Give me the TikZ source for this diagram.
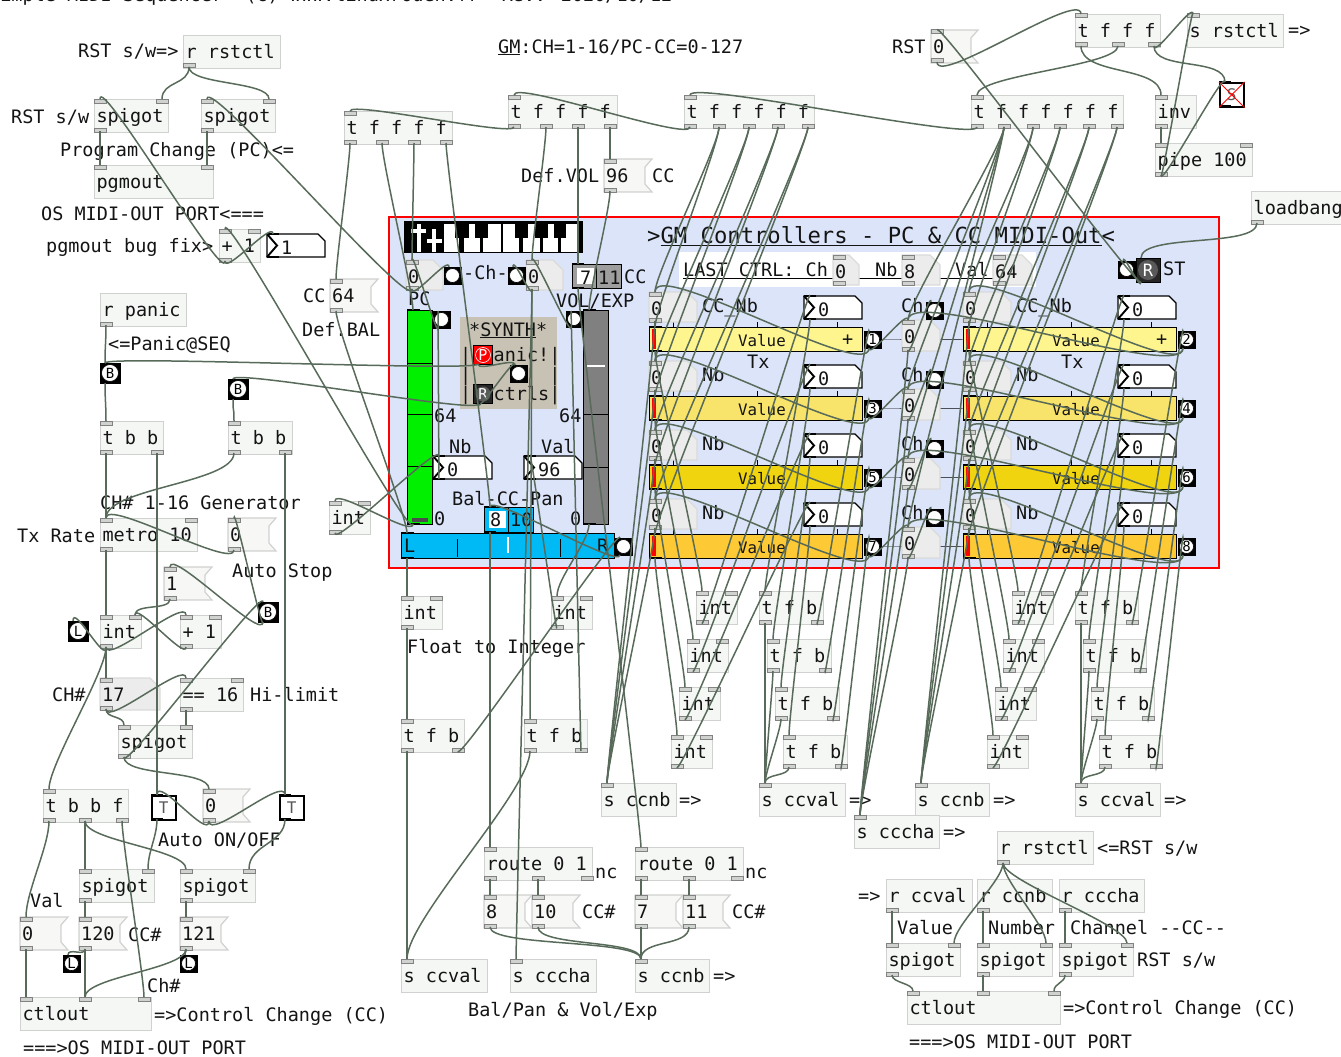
\documentclass[tikz,border=0pt]{standalone}
\usepackage{fontspec}
\usepackage{xcolor}
\usepackage{tikz}
\usetikzlibrary{positioning}
\newfontfamily\pdfont{DejaVu Sans Mono}
\definecolor{pd_wire}{RGB}{88, 107, 90}
\definecolor{pd_ink}{RGB}{20, 20, 20}
\definecolor{pd_edge}{RGB}{208, 210, 208}
\definecolor{pd_paper}{RGB}{245, 247, 245}
\definecolor{pd_msg}{RGB}{247, 247, 245}
\definecolor{pd_atom}{RGB}{236, 236, 236}
\definecolor{pd_port}{RGB}{130, 130, 130}
\definecolor{pd_panel}{RGB}{220, 228, 250}
\definecolor{pd_synth}{RGB}{200, 194, 180}
\definecolor{pd_green}{RGB}{0, 240, 0}
\definecolor{pd_cyan}{RGB}{0, 186, 245}
\definecolor{pd_grey}{RGB}{128, 128, 128}
\definecolor{pd_rowa}{RGB}{254, 245, 142}
\definecolor{pd_rowb}{RGB}{248, 227, 107}
\definecolor{pd_rowc}{RGB}{240, 212, 15}
\definecolor{pd_rowd}{RGB}{253, 201, 52}
\tikzset{
  pdtext/.style={anchor=base west,inner sep=0pt,text=pd_ink,font=\pdfont\fontsize{18.5}{20}\selectfont},
  pdbox/.style={draw=pd_edge,fill=pd_paper,line width=1.2pt,anchor=north west,inner xsep=2pt,inner ysep=0pt,
    minimum height=33,text height=15.5,text depth=2.5,text=pd_ink,font=\pdfont\fontsize{18.5}{20}\selectfont},
  pdportbox/.style={draw=pd_port,fill=pd_edge,line width=1pt},
  pdcord/.style={draw=pd_wire,line width=1.5pt},
  pdmsgbg/.style={draw=pd_edge,fill=pd_msg,line width=1.2pt},
  pdatombg/.style={draw=pd_edge!80!white,fill=pd_atom,line width=1.2pt},
  pdbar/.style={draw=black,line width=1.4pt,anchor=north west,inner sep=0pt},
  pdmark/.style={line width=2.4pt,black},
  pdbangbox/.style={fill=black,draw=black,inner sep=0pt,line width=0.5pt},
  pddot/.style={circle,draw=black,fill=white,inner sep=0pt,line width=0.6pt,text=black,font=\pdfont\fontsize{14}{14}\selectfont},
}
% one row of ports on a box
\newcommand{\pdports}[6]{%
  \ifx\relax#4\relax\else
  \foreach \px [count=\pn] in {#4} {
    \draw[pdportbox] (#2+\px,#3) rectangle (#2+\px+12,#3+4);
    \coordinate (#1-i\pn) at (#2+\px+6,#3);
  }\fi
  \ifx\relax#6\relax\else
  \foreach \px [count=\pn] in {#6} {
    \draw[pdportbox] (#2+\px,#3+#5-4) rectangle (#2+\px+12,#3+#5);
    \coordinate (#1-o\pn) at (#2+\px+6,#3+#5-1);
  }\fi}
\newcommand{\pdobj}[7]{%
  \node[pdbox,minimum width=#4] (#1) at (#2,#3) {\makebox[\dimexpr#4pt-4pt\relax][l]{#5}};
  \pdports{#1}{#2}{#3}{#6}{33}{#7}}
\newcommand{\pdmsg}[5]{%
  \draw[pdmsgbg] (#2,#3) -- (#2+#4,#3) -- (#2+#4-7,#3+8) -- (#2+#4-7,#3+25) -- (#2+#4,#3+33) -- (#2,#3+33) -- cycle;
  \node[pdtext] (#1) at (#2+2,#3+23) {#5};
  \pdports{#1}{#2}{#3}{0}{33}{0}}
\newcommand{\pdatom}[6]{%
  \draw[pdatombg] (#2,#3) -- (#2+#4-10,#3) -- (#2+#4,#3+10) -- (#2+#4,#3+#5) -- (#2,#3+#5) -- cycle;
  \node[pdtext] (#1) at (#2+2,#3+23) {#6};
  \pdports{#1}{#2}{#3}{0}{#5}{0}}
\newcommand{\pdnbx}[5]{%
  \draw[fill=white,draw=black,line width=1.3pt] (#2,#3) -- (#2+#4-7,#3) -- (#2+#4,#3+7) -- (#2+#4,#3+23) -- (#2,#3+23) -- cycle;
  \draw[line width=1.9pt] (#2,#3) -- (#2+10,#3+11.5) -- (#2,#3+23);
  \draw[pdmark] (#2,#3) -- (#2+12,#3) (#2,#3+23) -- (#2+12,#3+23);
  \node[pdtext] (#1) at (#2+14,#3+20) {#5};
  \coordinate (#1-i1) at (#2+6,#3);
  \coordinate (#1-o1) at (#2+6,#3+23);}
\newcommand{\pdbang}[5]{%
  \node[pdbangbox,minimum size=#4] (#1) at (#2+#4/2,#3+#4/2) {};
  \node[pddot,minimum size=#4-3] (#1-d) at (#1.center) {#5};
  \coordinate (#1-i1) at (#2+5,#3);
  \coordinate (#1-o1) at (#2+5,#3+#4);}
\newcommand{\pdtgl}[4]{%
  \node[draw=black,fill=white,line width=1.5pt,minimum size=24,inner sep=0pt,anchor=north west,text=black!65,
    font=\pdfont\fontsize{16}{16}\selectfont] (#1) at (#2,#3) {#4};
  \draw[pdmark] (#2,#3) -- (#2+12,#3) (#2,#3+24) -- (#2+12,#3+24);
  \coordinate (#1-i1) at (#2+6,#3);
  \coordinate (#1-o1) at (#2+6,#3+24);}
\newcommand{\pdwire}[3][18]{\draw[pdcord] (#2) .. controls +(0,#1) and +(0,-#1) .. (#3);}
\begin{document}
\begin{tikzpicture}[x=1pt,y=-1pt]
    \useasboundingbox (0,0) rectangle (1341,1057);
    \clip (0,0) rectangle (1341,1057);
    % Panel
    \fill[pd_panel] (389,217) rectangle (1219,568);
    \draw[red,line width=1.3pt] (389,217) rectangle (1219,568);

    % Comments
    \node[pdtext] (cTitle) at (-11,2) {Simple MIDI Sequencer~~(c) www.linuxrouen.fr~~Rev: 2020/10/12};
    \node[pdtext] (cRstA) at (78,58) {RST s/w=>};
    \node[pdtext] (cRstB) at (11,123) {RST s/w};
    \node[pdtext] (cProg) at (60,156) {Program Change (PC)<=};
    \node[pdtext] (cPortA) at (41,220) {OS MIDI-OUT PORT<===};
    \node[pdtext] (cBug) at (46,252) {pgmout bug fix>};
    \node[pdtext] (cCcA) at (303,302) {CC};
    \node[pdtext] (cBal) at (302,336) {Def.BAL};
    \node[pdtext] (cPanic) at (108,350) {<=Panic@SEQ};
    \node[pdtext] (cGm) at (498,53) {\underline{GM}:CH=1-16/PC-CC=0-127};
    \node[pdtext] (cRstC) at (892,53) {RST};
    \node[pdtext] (cVol) at (521,182) {Def.VOL};
    \node[pdtext] (cCcB) at (652,182) {CC};
    \node[pdtext] (cSend) at (1288,37) {=>};
    \node[pdtext] (cGen) at (100,509) {CH\# 1-16 Generator};
    \node[pdtext] (cTx) at (17,542) {Tx Rate};
    \node[pdtext] (cStop) at (232,577) {Auto Stop};
    \node[pdtext] (cChA) at (52,701) {CH\#};
    \node[pdtext] (cHi) at (250,701) {Hi-limit};
    \node[pdtext] (cAuto) at (158,846) {Auto ON/OFF};
    \node[pdtext] (cVal) at (30,907) {Val};
    \node[pdtext] (cCcC) at (128,941) {CC\#};
    \node[pdtext] (cChB) at (147,992) {Ch\#};
    \node[pdtext] (cCtlA) at (154,1021) {=>Control Change (CC)};
    \node[pdtext] (cPortB) at (23,1054) {===>OS MIDI-OUT PORT};
    \node[pdtext] (cFloat) at (407,653) {Float to Integer};
    \node[pdtext] (cNcA) at (595,878) {nc};
    \node[pdtext] (cNcB) at (745,878) {nc};
    \node[pdtext] (cCcD) at (582,918) {CC\#};
    \node[pdtext] (cCcE) at (732,918) {CC\#};
    \node[pdtext] (cBalPan) at (468,1016) {Bal/Pan \& Vol/Exp};
    \node[pdtext] (cOutA) at (679,806) {=>};
    \node[pdtext] (cOutB) at (713,982) {=>};
    \node[pdtext] (cOutC) at (849,806) {=>};
    \node[pdtext] (cOutD) at (993,806) {=>};
    \node[pdtext] (cOutE) at (1164,806) {=>};
    \node[pdtext] (cOutF) at (943,838) {=>};
    \node[pdtext] (cRstD) at (1097,854) {<=RST s/w};
    \node[pdtext] (cOutG) at (858,902) {=>};
    \node[pdtext] (cValue) at (897,934) {Value};
    \node[pdtext] (cNumber) at (988,934) {Number};
    \node[pdtext] (cChannel) at (1070,934) {Channel --CC--};
    \node[pdtext] (cRstE) at (1137,966) {RST s/w};
    \node[pdtext] (cCtlB) at (1063,1014) {=>Control Change (CC)};
    \node[pdtext] (cPortC) at (909,1048) {===>OS MIDI-OUT PORT};

    % Top objects
    \pdobj{rstA}{183}{35}{97}{r rstctl}{}{0}
    \pdobj{spgA}{94}{99}{74}{spigot}{0,62}{0}
    \pdobj{spgB}{201}{99}{74}{spigot}{0,62}{0}
    \pdobj{pgmA}{94}{165}{119}{pgmout}{0,107}{}
    \pdobj{addA}{219}{229}{41}{+ 1}{0,29}{0}
    \pdnbx{nbxA}{267}{234}{58}{1}
    \pdobj{trgA}{344}{111}{108}{t f f f f}{0}{0,32,64,96}
    \pdobj{trgB}{508}{95}{109}{t f f f f}{0}{0,32,64,96}
    \pdobj{trgC}{684}{95}{130}{t f f f f f}{0}{0,29,59,88,118}
    \pdobj{trgD}{971}{95}{152}{t f f f f f f}{0}{0,27,56,83,112,140}
    \pdobj{trgE}{1075}{14}{85}{t f f f}{0}{0,37,73}
    \pdobj{sndR}{1187}{14}{96}{s rstctl}{0}{}
    \pdobj{invA}{1155}{95}{41}{inv}{0}{0}
    \pdobj{pipA}{1155}{143}{97}{pipe 100}{0,85}{0}
    \pdobj{lbgA}{1251}{191}{98}{loadbang}{}{0}
    \pdtgl{tglS}{1219}{82}{S}
    \draw[red,line width=0.9pt] (tglS.north west) -- (tglS.south east) (tglS.north east) -- (tglS.south west);
    \pdmsg{msgR}{931}{30}{47}{0}
    \pdmsg{msgV}{604}{159}{48}{96}
    \pdmsg{msgB}{330}{279}{48}{64}

    % Left column
    \pdobj{rcvP}{100}{293}{86}{r panic}{}{0}
    \pdbang{bngB}{100}{363}{20}{B}
    \pdbang{bngC}{228}{379}{20}{B}
    \pdobj{tbbA}{100}{421}{63}{t b b}{0}{0,51}
    \pdobj{tbbB}{228}{421}{64}{t b b}{0}{0,51}
    \pdobj{metA}{100}{518}{97}{metro 10}{0,85}{0}
    \pdmsg{msgS}{228}{518}{48}{0}
    \pdmsg{msgO}{164}{567}{48}{1}
    \pdobj{intA}{100}{615}{41}{int}{0,29}{0}
    \pdobj{addB}{180}{615}{41}{+ 1}{0,29}{0}
    \pdbang{bngL}{68}{621}{20}{L}
    \pdbang{bngE}{258}{602}{20}{B}
    \pdobj{intC}{329}{501}{41}{int}{0,29}{0}
    \pdatom{numH}{100}{678}{60}{32}{17}
    \pdobj{eqlA}{180}{678}{63}{== 16}{0,51}{0}
    \pdobj{spgC}{118}{725}{74}{spigot}{0,62}{0}
    \pdobj{tbfA}{43}{789}{85}{t b b f}{0}{0,36,73}
    \pdtgl{tglA}{151}{795}{T}
    \pdmsg{msgT}{203}{789}{47}{0}
    \pdtgl{tglB}{279}{795}{T}
    \pdobj{spgD}{79}{869}{75}{spigot}{0,63}{0}
    \pdobj{spgE}{180}{869}{75}{spigot}{0,63}{0}
    \pdmsg{msgX}{20}{917}{48}{0}
    \pdmsg{msgY}{79}{917}{48}{120}
    \pdmsg{msgZ}{180}{917}{48}{121}
    \pdbang{bngD}{63}{955}{17}{L}
    \pdbang{bngF}{180}{955}{17}{L}
    \pdobj{ctlA}{20}{997}{131}{ctlout}{0,59,118}{}

    % Middle column
    \pdobj{intB}{401}{596}{41}{int}{0,29}{0}
    \pdobj{intD}{551}{596}{41}{int}{0,29}{0}
    \pdobj{tfbA}{401}{719}{63}{t f b}{0}{0,51}
    \pdobj{tfbB}{524}{719}{63}{t f b}{0}{0,51}
    \pdobj{rteA}{484}{847}{108}{route 0 1}{0}{0,48,97}
    \pdobj{rteB}{635}{847}{108}{route 0 1}{0}{0,48,96}
    \pdmsg{msgA}{484}{895}{48}{8}
    \pdmsg{msgC}{532}{895}{48}{10}
    \pdmsg{msgD}{635}{895}{48}{7}
    \pdmsg{msgE}{683}{895}{47}{11}
    \pdobj{sndA}{401}{959}{86}{s ccval}{0}{}
    \pdobj{sndB}{510}{959}{86}{s cccha}{0}{}
    \pdobj{sndC}{635}{959}{74}{s ccnb}{0}{}
    \pdobj{sndD}{601}{783}{75}{s ccnb}{0}{}
    \pdobj{sndE}{759}{783}{86}{s ccval}{0}{}
    \pdobj{sndF}{915}{783}{74}{s ccnb}{0}{}
    \pdobj{sndG}{1075}{783}{85}{s ccval}{0}{}
    \pdobj{sndH}{854}{815}{85}{s cccha}{0}{}

    % int and trigger stairs
    \foreach \rw/\xi/\xt in {1/696/759,2/687/767,3/679/775,4/671/783} {
      \pgfmathsetmacro{\ys}{591+(\rw-1)*48}
      \pgfmathsetmacro{\xj}{\xi+316}
      \pgfmathsetmacro{\xu}{\xt+316}
      \pdobj{intL\rw}{\xi}{\ys}{41}{int}{0,29}{0}
      \pdobj{tfbL\rw}{\xt}{\ys}{64}{t f b}{0}{0,52}
      \pdobj{intR\rw}{\xj}{\ys}{41}{int}{0,29}{0}
      \pdobj{tfbR\rw}{\xu}{\ys}{63}{t f b}{0}{0,51}
    }

    % Bottom right
    \pdobj{rstB}{997}{831}{96}{r rstctl}{}{0}
    \pdobj{rcvA}{886}{879}{86}{r ccval}{}{0}
    \pdobj{rcvB}{977}{879}{75}{r ccnb}{}{0}
    \pdobj{rcvC}{1059}{879}{85}{r cccha}{}{0}
    \pdobj{spgF}{886}{943}{74}{spigot}{0,62}{0}
    \pdobj{spgG}{977}{943}{75}{spigot}{0,63}{0}
    \pdobj{spgH}{1059}{943}{74}{spigot}{0,62}{0}
    \pdobj{ctlB}{907}{991}{153}{ctlout}{0,70,141}{}

    % Piano
    \fill[black] (404,221) rectangle (583,253);
    \foreach \xa/\ya/\xb/\yb in {417/224/421/252,411/229/426/233,432/229/436/252,427/239/442/243,
        444/224/455/252,455/238/459/252,464/238/480/252,469/224/475/238,483/238/501/252,488/224/501/238,
        503/224/515/252,515/238/519/252,523/238/540/252,528/224/535/238,543/238/558/252,548/224/554/238,
        561/238/577/252,566/224/577/238}
      \fill[white] (\xa,\ya) rectangle (\xb,\yb);

    % Synth box
    \fill[pd_synth] (460,317) rectangle (557,409);
    \node[pdtext] (cSynth) at (469,336) {*\underline{SYNTH}*};
    \node[pdtext] (cPanicA) at (460,361) {|~~anic!|};
    \node[pdtext] (cBars) at (460,381) {|~~~~~~~|};
    \node[pdtext] (cCtrls) at (460,400) {|~~ctrls|};
    \node[fill=red,draw=black,line width=1pt,minimum size=19,inner sep=0pt] (bngP) at (483,355) {};
    \node[circle,fill=red,draw=white,line width=0.6pt,minimum size=15,inner sep=0pt,text=white,
      font=\pdfont\fontsize{15}{15}\selectfont] (bngP-d) at (bngP.center) {P};
    \node[fill=black!85,draw=black,line width=1pt,minimum size=19,inner sep=0pt] (bngR) at (483,394) {};
    \node[circle,fill=black!65,minimum size=15,inner sep=0pt,text=white,
      font=\pdfont\fontsize{15}{15}\selectfont] (bngR-d) at (bngR.center) {R};
    \coordinate (bngP-o1) at (478,364);
    \coordinate (bngR-o1) at (478,404);
    \pdbang{bngK}{510}{365}{17}{}

    % PC slider
    \node[pdbar,fill=pd_green,minimum width=25,minimum height=214] (sldP) at (407,310) {};
    \draw[black] (407,363) -- (432,363) (407,414) -- (432,414) (407,466) -- (432,466);
    \fill[black!70] (412,518) rectangle (428,522);
    \draw[pdmark] (407,310) -- (420,310) (407,524) -- (420,524);
    \coordinate (sldP-i1) at (413,310);
    \coordinate (sldP-o1) at (413,524);
    % VOL slider
    \node[pdbar,fill=pd_grey,minimum width=25,minimum height=214] (sldV) at (583,310) {};
    \draw[black] (583,414) -- (608,414) (583,467) -- (608,467);
    \draw[white,line width=1.5pt] (587,366) -- (605,366);
    \draw[pdmark] (583,310) -- (596,310) (583,524) -- (596,524);
    \coordinate (sldV-i1) at (589,310);
    \coordinate (sldV-o1) at (589,524);
    % BAL slider
    \node[pdbar,fill=pd_cyan,minimum width=213,minimum height=25] (sldB) at (401,533) {};
    \draw[black] (457,539) -- (457,557) (560,539) -- (560,557);
    \draw[white,line width=2pt] (508,537) -- (508,553);
    \draw[pdmark] (401,533) -- (414,533) (401,558) -- (414,558);
    \node[pdtext] (cL) at (404,552) {L};
    \node[pdtext] (cR) at (597,552) {R};
    \coordinate (sldB-i1) at (407,533);
    \coordinate (sldB-o1) at (407,558);
    \pdbang{bngG}{615}{538}{17}{}
    % Radios
    \node[pdbar,fill=pd_cyan,minimum width=49,minimum height=25] (radB) at (484,507) {};
    \draw[black] (508.5,507) -- (508.5,532);
    \fill[white] (489,511) rectangle (506,528);
    \draw[pdmark] (484,507) -- (496,507) (484,532) -- (496,532);
    \node[pdtext] (radB-a) at (490,526) {8};
    \node[pdtext] (radB-b) at (510,526) {10};
    \coordinate (radB-i1) at (490,507);
    \coordinate (radB-o1) at (490,532);
    \node[pdbar,fill=black!38,minimum width=49,minimum height=24] (radV) at (572,264) {};
    \draw[black] (596.5,264) -- (596.5,288);
    \fill[white] (577,268) rectangle (594,284);
    \draw[pdmark] (572,264) -- (584,264) (572,288) -- (584,288);
    \node[pdtext] (radV-a) at (580,284) {7};
    \node[pdtext] (radV-b) at (598,284) {11};
    \coordinate (radV-i1) at (578,264);
    \coordinate (radV-o1) at (578,288);

    % Panel left labels
    \pdatom{numP}{406}{260}{37}{30}{0}
    \pdatom{numQ}{526}{260}{37}{30}{0}
    \pdbang{bngH}{444}{267}{17}{}
    \pdbang{bngI}{508}{267}{17}{}
    \pdbang{bngM}{433}{311}{17}{}
    \pdbang{bngV}{566}{311}{16}{}
    \node[pdtext] (cCh) at (463,279) {-Ch-};
    \node[pdtext] (cCcF) at (624,283) {CC};
    \node[pdtext] (cVolExp) at (556,307) {VOL/EXP};
    \node[pdtext] (cPc) at (408,305) {PC};
    \node[pdtext] (cSixA) at (434,422) {64};
    \node[pdtext] (cSixB) at (559,422) {64};
    \node[pdtext] (cNb) at (449,453) {Nb};
    \node[pdtext] (cVa) at (541,453) {Val};
    \node[pdtext] (cBalCc) at (452,505) {Bal-CC-Pan};
    \node[pdtext] (cZeroA) at (434,525) {0};
    \node[pdtext] (cZeroB) at (570,525) {0};
    \pdnbx{nbxN}{433}{456}{59}{0}
    \pdnbx{nbxV}{524}{456}{58}{96}

    % Title and last control
    \node[pdtext,font=\pdfont\fontsize{22.2}{24}\selectfont] (cHead) at (647,243) {>\underline{GM Controllers - PC \& CC MIDI-Out}<};
    \fill[white] (679,252) rectangle (1036,287);
    \draw[black] (683,278) -- (1000,278);
    \node[pdtext] (cLast) at (683,276) {LAST CTRL: Ch};
    \node[pdtext] (cNbL) at (875,276) {Nb};
    \node[pdtext] (cValL) at (955,276) {Val};
    \pdatom{numU}{833}{255}{26}{30}{0}
    \pdatom{numW}{902}{255}{38}{30}{8}
    \pdatom{numZ}{993}{255}{39}{30}{64}

    % ST
    \node[fill=black!85,draw=black,line width=1pt,minimum size=24,inner sep=0pt] (bngT) at (1148,270) {};
    \node[circle,fill=black!65,minimum size=20,inner sep=0pt,text=white,
      font=\pdfont\fontsize{17}{17}\selectfont] (bngT-d) at (bngT.center) {R};
    \coordinate (bngT-i1) at (1141,258);
    \coordinate (bngT-o1) at (1141,282);
    \pdbang{bngS}{1118}{261}{17}{}
    \node[pdtext] (cSt) at (1163,275) {ST};

    % CC rows
    \foreach \col/\cx/\bnA in {L/0/-1,R/314/0} {
      \foreach \rw/\colr in {1/pd_rowa,2/pd_rowb,3/pd_rowc,4/pd_rowd} {
        \pgfmathsetmacro{\xa}{649+\cx}
        \pgfmathsetmacro{\xn}{804+\cx}
        \pgfmathsetmacro{\xb}{864+\cx}
        \pgfmathsetmacro{\ya}{327+(\rw-1)*69}
        \pgfmathtruncatemacro{\bn}{2*\rw+\bnA}
        \draw[black] (\xa+24,\ya-5) -- (\xa+24,\ya) (\xa+108,\ya-5) -- (\xa+108,\ya) (\xa+188,\ya-5) -- (\xa+188,\ya);
        \pdatom{num\col\rw}{\xa}{\ya-35}{48}{30}{0}
        \node[pdtext] (cNb\col\rw) at (\xa+53,\ya-15) {\ifnum\rw=1 CC\_Nb\else Nb\fi};
        \pdnbx{nbx\col\rw}{\xn}{\ya-31}{58}{0}
        \node[pdbar,fill=\colr,minimum width=213,minimum height=24] (sld\col\rw) at (\xa,\ya) {};
        \fill[red] (\xa+3,\ya+2) rectangle (\xa+7,\ya+22);
        \draw[pdmark] (\xa,\ya) -- (\xa+13,\ya) (\xa,\ya+24) -- (\xa+13,\ya+24);
        \node[pdtext,font=\pdfont\fontsize{15.8}{16}\selectfont] (cVal\col\rw) at (\xa+89,\ya+19) {Value};
        \ifnum\rw=1 \node[pdtext] (cPlus\col) at (\xa+193,\ya+18) {+}; \fi
        \coordinate (sld\col\rw-i1) at (\xa+6,\ya);
        \coordinate (sld\col\rw-o1) at (\xa+6,\ya+24);
        \pdbang{bng\col\rw}{\xb}{\ya+4}{17}{\bn}
      }
    }
    \node[pdtext] (cTxL) at (747,368) {Tx};
    \node[pdtext] (cTxR) at (1061,368) {Tx};
    % Ch column
    \foreach \rw in {1,2,3,4} {
      \pgfmathsetmacro{\ya}{327+(\rw-1)*69}
      \draw[black] (bngL\rw.east) -- (sldR\rw.west);
      \pdatom{numC\rw}{902}{\ya-7}{38}{31}{0}
      \pdbang{bngC\rw}{926}{\ya-25}{17}{}
      \node[pdtext] (cChC\rw) at (901,\ya-15) {Ch};
    }

    % Wires, top left
    \pdwire{rstA-o1}{spgA-i2}
    \pdwire{rstA-o1}{spgB-i2}
    \pdwire{spgA-o1}{pgmA-i1}
    \pdwire{spgB-o1}{pgmA-i2}
    \pdwire[25]{addA-o1}{spgA-i1}
    \pdwire[14]{addA-o1}{nbxA-i1}
    \pdwire[25]{numP-o1}{spgB-i1}
    \pdwire[25]{sldP-o1}{addA-i1}
    % Wires, trigger chain
    \pdwire[10]{trgB-o1}{trgA-i1}
    \pdwire[15]{trgC-o1}{trgB-i1}
    \pdwire[15]{trgD-o1}{trgC-i1}
    \pdwire[20]{trgE-o2}{trgD-i1}
    \pdwire[25]{msgR-o1}{trgE-i1}
    \pdwire[30]{trgE-o1}{invA-i1}
    \pdwire[12]{trgE-o3}{sndR-i1}
    \pdwire[25]{trgE-o3}{tglS-i1}
    \pdwire{invA-o1}{pipA-i1}
    \pdwire[14]{pipA-o1}{sndR-i1}
    \pdwire[14]{pipA-o1}{tglS-i1}
    \pdwire[12]{bngT-o1}{msgR-i1}
    \pdwire[10]{bngT-o1}{bngS-i1}
    \pdwire[25]{lbgA-o1}{bngT-i1}
    % Wires, sliders
    \pdwire{trgA-o1}{msgB-i1}
    \pdwire{msgB-o1}{sldB-i1}
    \pdwire{trgA-o2}{sldP-i1}
    \pdwire{trgA-o3}{numP-i1}
    \pdwire{trgA-o4}{radB-i1}
    \pdwire{trgB-o2}{numQ-i1}
    \pdwire{trgB-o3}{radV-i1}
    \pdwire{trgB-o4}{msgV-i1}
    \pdwire{msgV-o1}{sldV-i1}
    \pdwire[12]{numP-o1}{bngH-i1}
    \pdwire[12]{numQ-o1}{bngI-i1}
    \pdwire[12]{bngM-o1}{numP-i1}
    \pdwire[12]{bngV-o1}{numQ-i1}
    \pdwire[14]{sldP-o1}{intC-i1}
    \pdwire[14]{intC-o1}{nbxN-i1}
    \pdwire[10]{nbxN-o1}{bngM-i1}
    \pdwire[14]{bngG-o1}{radB-i1}
    \pdwire{radB-o1}{rteA-i1}
    \pdwire{radV-o1}{rteB-i1}
    \pdwire{sldV-o1}{intD-i1}
    \pdwire[12]{intD-o1}{nbxV-i1}
    \pdwire{numQ-o1}{tfbB-i1}
    \pdwire{numQ-o1}{sndB-i1}
    \pdwire[12]{tfbB-o2}{bngV-i1}
    \pdwire{sldB-o1}{intB-i1}
    \pdwire{intB-o1}{tfbA-i1}
    \pdwire{tfbA-o1}{sndA-i1}
    \pdwire[14]{tfbA-o2}{bngG-i1}
    \pdwire[40]{tfbB-o1}{sndA-i1}
    \pdwire{rteA-o1}{msgA-i1}
    \pdwire{rteA-o2}{msgC-i1}
    \pdwire{rteB-o1}{msgD-i1}
    \pdwire{rteB-o2}{msgE-i1}
    \pdwire[20]{msgA-o1}{sndC-i1}
    \pdwire[20]{msgC-o1}{sndC-i1}
    \pdwire{msgD-o1}{sndC-i1}
    \pdwire[20]{msgE-o1}{sndC-i1}
    % Wires, panic and generator
    \pdwire{rcvP-o1}{bngB-i1}
    \pdwire{bngB-o1}{tbbA-i1}
    \pdwire{bngC-o1}{tbbB-i1}
    \pdwire[8]{bngP-o1}{bngB-i1}
    \pdwire[8]{bngP-o1}{bngK-i1}
    \pdwire[10]{bngR-o1}{bngC-i1}
    \pdwire[10]{bngR-o1}{bngK-i1}
    \pdwire{tbbA-o1}{metA-i1}
    \pdwire{tbbA-o2}{tglA-i1}
    \pdwire[30]{tbbB-o1}{metA-i1}
    \pdwire{tbbB-o2}{tglB-i1}
    \pdwire[20]{msgS-o1}{metA-i1}
    \pdwire{metA-o1}{intA-i1}
    \pdwire[14]{bngE-o1}{msgS-i1}
    \pdwire[20]{bngE-o1}{msgO-i1}
    \pdwire[12]{msgO-o1}{intA-i2}
    \pdwire[18]{intA-o1}{addB-i1}
    \pdwire[14]{addB-o1}{intA-i2}
    \pdwire[18]{intA-o1}{bngL-i1}
    \pdwire{intA-o1}{numH-i1}
    \pdwire[25]{intA-o1}{tbfA-i1}
    \pdwire[18]{numH-o1}{eqlA-i1}
    \pdwire[10]{numH-o1}{spgC-i1}
    \pdwire{eqlA-o1}{spgC-i2}
    \pdwire[20]{spgC-o1}{msgT-i1}
    \pdwire[16]{spgC-o1}{bngE-i1}
    \pdwire[25]{tbfA-o1}{msgX-i1}
    \pdwire{tbfA-o2}{spgD-i1}
    \pdwire[20]{tbfA-o2}{spgE-i1}
    \pdwire{tbfA-o3}{ctlA-i3}
    \pdwire{tglA-o1}{spgD-i2}
    \pdwire[25]{tglB-o1}{spgE-i2}
    \pdwire[20]{msgT-o1}{tglA-i1}
    \pdwire[20]{msgT-o1}{tglB-i1}
    \pdwire{spgD-o1}{msgY-i1}
    \pdwire{spgE-o1}{msgZ-i1}
    \pdwire{msgX-o1}{ctlA-i1}
    \pdwire{msgY-o1}{ctlA-i2}
    \pdwire[8]{msgY-o1}{bngD-i1}
    \pdwire[20]{msgZ-o1}{ctlA-i2}
    \pdwire[6]{msgZ-o1}{bngF-i1}
    % Wires, bottom right
    \pdwire{rstB-o1}{spgF-i2}
    \pdwire{rstB-o1}{spgG-i2}
    \pdwire{rstB-o1}{spgH-i2}
    \pdwire{rcvA-o1}{spgF-i1}
    \pdwire{rcvB-o1}{spgG-i1}
    \pdwire{rcvC-o1}{spgH-i1}
    \pdwire[8]{spgF-o1}{ctlB-i1}
    \pdwire[8]{spgG-o1}{ctlB-i2}
    \pdwire[8]{spgH-o1}{ctlB-i3}
    % Wires, CC rows
    \foreach \rw [evaluate=\rw as \ro using int(\rw+1), evaluate=\rw as \rq using int(\rw+2)] in {1,2,3,4} {
      \pdwire{trgC-o\ro}{numL\rw-i1}
      \pdwire{trgC-o\ro}{sldL\rw-i1}
      \pdwire{trgD-o\rq}{numR\rw-i1}
      \pdwire{trgD-o\rq}{sldR\rw-i1}
      \pdwire{trgD-o2}{numC\rw-i1}
      \pdwire[35]{bngL\rw-o1}{numL\rw-i1}
      \pdwire[35]{bngR\rw-o1}{numR\rw-i1}
      \pdwire[35]{bngR\rw-o1}{numC\rw-i1}
      \pdwire[12]{bngL\rw-o1}{numC\rw-i1}
      \pdwire[12]{numC\rw-o1}{bngC\rw-i1}
      \pdwire{numC\rw-o1}{sndH-i1}
      \pdwire{numL\rw-o1}{sndD-i1}
      \pdwire{numR\rw-o1}{sndF-i1}
      \pdwire{sldL\rw-o1}{intL\rw-i1}
      \pdwire{sldR\rw-o1}{intR\rw-i1}
      \pdwire[14]{intL\rw-o1}{nbxL\rw-i1}
      \pdwire[14]{intR\rw-o1}{nbxR\rw-i1}
      \pdwire{nbxL\rw-o1}{tfbL\rw-i1}
      \pdwire{nbxR\rw-o1}{tfbR\rw-i1}
      \pdwire[14]{tfbL\rw-o2}{bngL\rw-i1}
      \pdwire[14]{tfbR\rw-o2}{bngR\rw-i1}
      \pdwire[10]{tfbL\rw-o1}{sndE-i1}
      \pdwire[10]{tfbR\rw-o1}{sndG-i1}
    }
\end{tikzpicture}
\end{document}
